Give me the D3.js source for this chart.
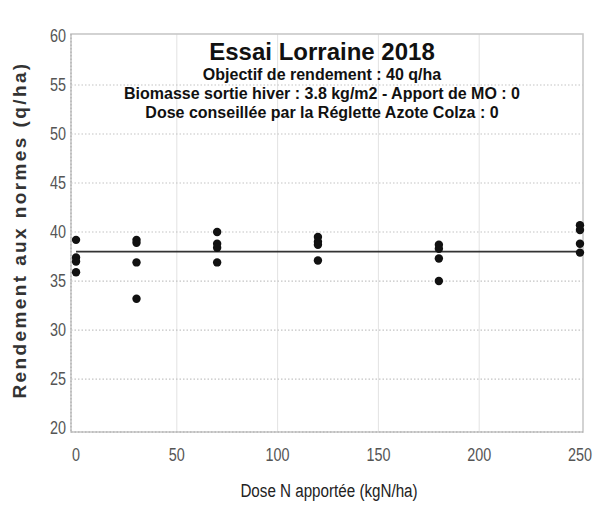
<!DOCTYPE html>
<html>
<head>
<meta charset="utf-8">
<script src="https://cdn.jsdelivr.net/npm/d3@7"></script>
<style>
  body { margin: 0; background: #fff; }
  .tick-label { font-family: "Liberation Sans", Arial, sans-serif; font-size: 18px; fill: #555; }
  .title { font-family: "Liberation Sans", Arial, sans-serif; font-weight: bold; fill: #111; }
</style>
</head>
<body>
<div id="chart"></div>
<script>
const width = 602;
const height = 506;

// Dose N (kgN/ha) and yield (q/ha) for each plot
const doses = [0, 0, 0, 0, 30, 30, 30, 30, 70, 70, 70, 70,
               120, 120, 120, 120, 180, 180, 180, 180, 250, 250, 250, 250];
const yields = [39.2, 37.4, 37.0, 35.9, 39.2, 38.9, 36.9, 33.2, 40.0, 38.8, 38.4, 36.9,
                39.5, 39.0, 38.7, 37.1, 38.7, 38.3, 37.3, 35.0, 40.7, 40.2, 38.8, 37.9];
const meanYield = 38.0;

const xTicks = [0, 50, 100, 150, 200, 250];
const yTicks = [20, 25, 30, 35, 40, 45, 50, 55, 60];

const titleLines = [
  "Objectif de rendement : 40 q/ha",
  "Biomasse sortie hiver : 3.8 kg/m2 - Apport de MO : 0",
  "Dose conseillée par la Réglette Azote Colza : 0"
];

const plot = { left: 71, right: 583, top: 34, bottom: 432 };
const narrow = 0.8; // horizontal squeeze for the condensed labels

const svg = d3.select("#chart")
  .append("svg")
  .attr("width", width)
  .attr("height", height);

const x = d3.scaleLinear()
  .domain([-2.5, 251.5])
  .range([plot.left, plot.right]);

const y = d3.scaleLinear()
  .domain([19.6, 60.2])
  .range([plot.bottom, plot.top]);

// vertical grid (solid, light)
svg.selectAll(".vgrid")
  .data(xTicks.filter(function(d) { return d > 0 && d < 250; }))
  .enter()
  .append("line")
  .attr("x1", function(d) { return x(d); })
  .attr("x2", function(d) { return x(d); })
  .attr("y1", plot.top)
  .attr("y2", plot.bottom)
  .attr("stroke", "#e2e2e2")
  .attr("stroke-width", 1);

// horizontal grid (dotted)
svg.selectAll(".hgrid")
  .data(yTicks.filter(function(d) { return d > 20 && d < 60; }))
  .enter()
  .append("line")
  .attr("x1", plot.left)
  .attr("x2", plot.right)
  .attr("y1", function(d) { return y(d); })
  .attr("y2", function(d) { return y(d); })
  .attr("stroke", "#c4c4c4")
  .attr("stroke-width", 1.2)
  .attr("stroke-dasharray", "1.5,2");

// plot frame
svg.append("rect")
  .attr("x", plot.left)
  .attr("y", plot.top)
  .attr("width", plot.right - plot.left)
  .attr("height", plot.bottom - plot.top)
  .attr("fill", "none")
  .attr("stroke", "#c8c8c8")
  .attr("stroke-width", 1.6);

// dotted axis lines on left and bottom
svg.append("line")
  .attr("x1", plot.left).attr("x2", plot.left)
  .attr("y1", plot.top).attr("y2", plot.bottom)
  .attr("stroke", "#aaa")
  .attr("stroke-dasharray", "1.5,2");

svg.append("line")
  .attr("x1", plot.left).attr("x2", plot.right)
  .attr("y1", plot.bottom).attr("y2", plot.bottom)
  .attr("stroke", "#aaa")
  .attr("stroke-dasharray", "1.5,2");

// tick labels (condensed)
svg.selectAll(".xlab")
  .data(xTicks)
  .enter()
  .append("text")
  .attr("class", "tick-label")
  .attr("transform", function(d) {
    return "translate(" + x(d) + "," + (plot.bottom + 29) + ") scale(" + narrow + ",1)";
  })
  .attr("text-anchor", "middle")
  .text(function(d) { return d; });

svg.selectAll(".ylab")
  .data(yTicks)
  .enter()
  .append("text")
  .attr("class", "tick-label")
  .attr("transform", function(d) {
    return "translate(" + (plot.left - 5) + "," + (y(d) + 6) + ") scale(" + narrow + ",1)";
  })
  .attr("text-anchor", "end")
  .text(function(d) { return d; });

// mean line
svg.append("line")
  .attr("x1", x(0))
  .attr("x2", x(251.5))
  .attr("y1", y(meanYield))
  .attr("y2", y(meanYield))
  .attr("stroke", "#333")
  .attr("stroke-width", 1.6);

// points
svg.selectAll(".dot")
  .data(doses)
  .enter()
  .append("circle")
  .attr("cx", function(d) { return x(d); })
  .attr("cy", function(d, i) { return y(yields[i]); })
  .attr("r", 4.2)
  .attr("fill", "#111");

// titles
svg.append("text")
  .attr("class", "title")
  .attr("x", 322)
  .attr("y", 60)
  .attr("text-anchor", "middle")
  .attr("font-size", "24px")
  .text("Essai Lorraine 2018");

svg.selectAll(".subtitle")
  .data(titleLines)
  .enter()
  .append("text")
  .attr("class", "title")
  .attr("x", 322)
  .attr("y", function(d, i) { return 80 + i * 19; })
  .attr("text-anchor", "middle")
  .attr("font-size", "16px")
  .text(function(d) { return d; });

// axis titles
svg.append("text")
  .attr("transform", "translate(329,497) scale(" + narrow + ",1)")
  .attr("text-anchor", "middle")
  .attr("font-family", "'Liberation Sans', Arial, sans-serif")
  .attr("font-size", "19px")
  .attr("fill", "#222")
  .text("Dose N apportée (kgN/ha)");

svg.append("text")
  .attr("transform", "translate(26,230) rotate(-90)")
  .attr("text-anchor", "middle")
  .attr("font-family", "'Liberation Sans', Arial, sans-serif")
  .attr("font-weight", "bold")
  .attr("font-size", "19px")
  .attr("letter-spacing", "2.4px")
  .attr("fill", "#333")
  .text("Rendement aux normes (q/ha)");
</script>
</body>
</html>
